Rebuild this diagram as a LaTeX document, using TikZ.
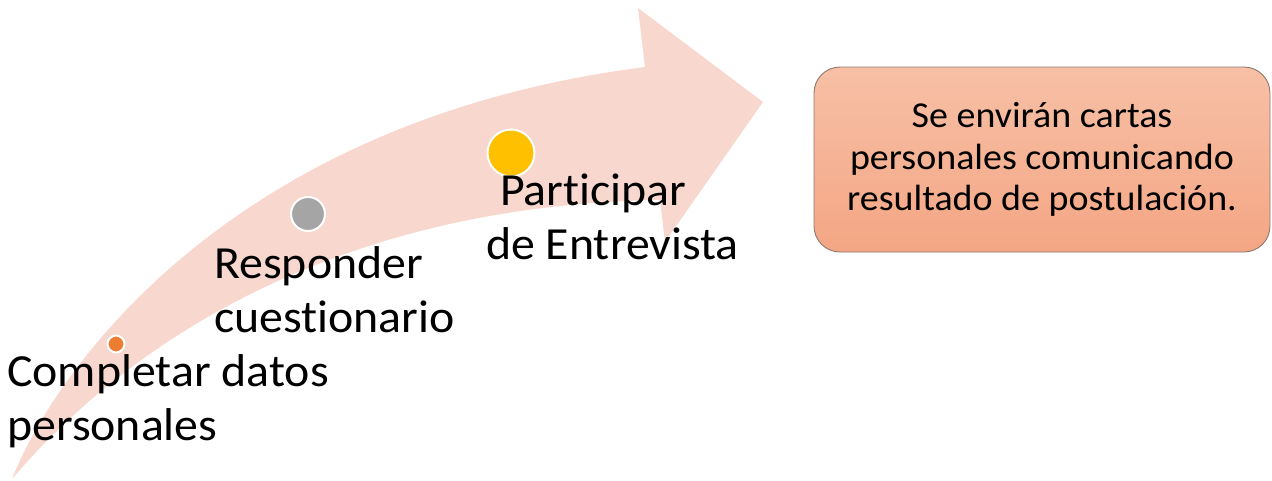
\documentclass[tikz,border=0pt]{standalone}
\usepackage{fontspec}
\setmainfont{Carlito}
\newfontfamily\widefont[FakeStretch=1.04,Ligatures={NoCommon}]{Carlito}
\definecolor{arrowpink}{RGB}{248,216,206}
\definecolor{dotorange}{RGB}{237,125,49}
\definecolor{dotgray}{RGB}{165,165,165}
\definecolor{dotyellow}{RGB}{255,192,0}
\definecolor{boxtop}{RGB}{247,192,166}
\definecolor{boxbot}{RGB}{244,166,132}
\definecolor{boxline}{RGB}{140,120,110}
\begin{document}
\begin{tikzpicture}[x=1pt,y=-1pt,
  dot/.style={circle,draw=white,line width=2pt,inner sep=0pt},
  steplabel/.style={inner sep=0pt,align=left,anchor=base west,font=\widefont\fontsize{46}{54}\selectfont},
  resultbox/.style={draw=boxline,line width=0.9pt,rounded corners=26pt,top color=boxtop,bottom color=boxbot,
    minimum width=456pt,minimum height=185pt,align=center,font=\widefont\fontsize{36.5}{41.5}\selectfont}]
\useasboundingbox (0,0) rectangle (1272,480);
% curved arrow
\fill[arrowpink] (12,479) .. controls (55,370) and (230,120) .. (645,67)
  -- (638,8) -- (763,102) -- (665,242) -- (660,200)
  .. controls (340,205) and (130,340) .. (12,479) -- cycle;
% dots
\node[dot,fill=dotorange,minimum size=17pt] (d1) at (116,344) {};
\node[dot,fill=dotgray,minimum size=34pt] (d2) at (308,214) {};
\node[dot,fill=dotyellow,minimum size=47pt] (d3) at (511,153) {};
% labels (anchored at the baseline of the last line)
\node[steplabel] (l1) at (7,440) {Completar datos\\personales};
\node[steplabel] (l2) at (214,332) {Responder\\cuestionario};
\node[steplabel] (l3) at (486,259) {\hspace*{14pt}Participar\\de Entrevista};
% result box
\node[resultbox] (res) at (1042,159.5) {Se envirán cartas\\personales comunicando\\resultado de postulación.};
\end{tikzpicture}
\end{document}
